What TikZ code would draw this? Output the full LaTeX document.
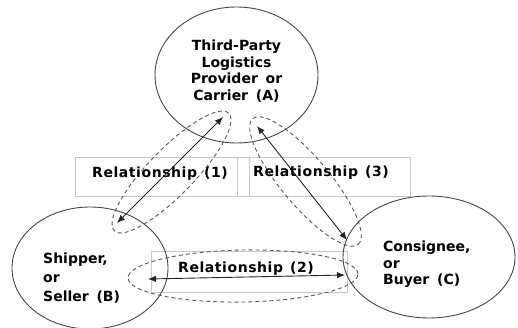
\documentclass[tikz,border=0pt]{standalone}
\usepackage{fontspec}
\setmainfont{DejaVu Sans}[WordSpace=1.6]
\newfontfamily\relfont{DejaVu Sans}[LetterSpace=4,WordSpace=1.3]
\usetikzlibrary{arrows.meta,shapes.geometric}

\begin{document}
\begin{tikzpicture}[x=1pt,y=-1pt,
  party/.style={draw=black!72, line width=0.9pt, ellipse, inner sep=0pt},
  loop/.style={draw=black!65, line width=0.9pt, dash pattern=on 4pt off 3pt, ellipse, inner sep=0pt},
  relbox/.style={draw=black!22, line width=0.9pt, rectangle, inner sep=0pt},
  link/.style={{Latex[length=8pt,width=6.5pt]}-{Latex[length=8pt,width=6.5pt]}, line width=0.9pt, black!85},
  lbl/.style={inner sep=0pt, text=black, font=\fontsize{14}{16.7}\selectfont\bfseries},
  rel/.style={inner sep=0pt, text=black, anchor=base west, font=\relfont\fontsize{14}{16.7}\selectfont\bfseries}
]
\useasboundingbox (0,0) rectangle (518,328);

% relationship boxes
\node[relbox, minimum width=162pt, minimum height=39pt] (box1) at (156,176.5) {};
\node[relbox, minimum width=12pt,  minimum height=39pt] (gap)  at (243,176.5) {};
\node[relbox, minimum width=161pt, minimum height=39pt] (box3) at (329.5,176.5) {};
\node[relbox, minimum width=196pt, minimum height=41pt] (box2) at (249,271.5) {};

% the three parties
\node[party, minimum width=163pt, minimum height=136pt] (A) at (236.5,75) {};
\node[party, minimum width=156pt, minimum height=122pt] (B) at (90,268) {};
\node[party, minimum width=172pt, minimum height=122pt] (C) at (429,257) {};

% dashed loops around each relationship
\node[loop, rotate=45.8, minimum width=164pt, minimum height=46pt] (L1) at (171.5,172) {};
\node[loop, rotate=-50,  minimum width=164pt, minimum height=48pt] (L3) at (305.5,181.5) {};
\node[loop, rotate=1,    minimum width=230pt, minimum height=52pt] (L2) at (243,276) {};

% arrow end points
\coordinate (r1b) at (117,223);
\coordinate (r1a) at (223,117);
\coordinate (r3a) at (257,126);
\coordinate (r3c) at (347,240);
\coordinate (r2b) at (148,279);
\coordinate (r2c) at (345,275);

\draw[link] (r1b) -- (r1a);
\draw[link] (r3a) -- (r3c);
\draw[link] (r2b) -- (r2c);

% texts
\node[lbl, align=center, anchor=north] (tA) at (236.5,39.5)
  {Third-Party\\Logistics\\Provider or\\Carrier (A)};
\node[lbl, align=left, anchor=north west, font=\fontsize{14}{19}\selectfont\bfseries] (tB) at (43,253)
  {Shipper,\\or\\Seller (B)};
\node[lbl, align=left, anchor=north west, font=\fontsize{14}{16.2}\selectfont\bfseries] (tC) at (383,241)
  {Consignee,\\or\\Buyer (C)};

\node[rel] (t1) at (92,178) {Relationship (1)};
\node[rel] (t3) at (253,176.7) {Relationship (3)};
\node[rel] (t2) at (178,272.7) {Relationship (2)};
\end{tikzpicture}
\end{document}
